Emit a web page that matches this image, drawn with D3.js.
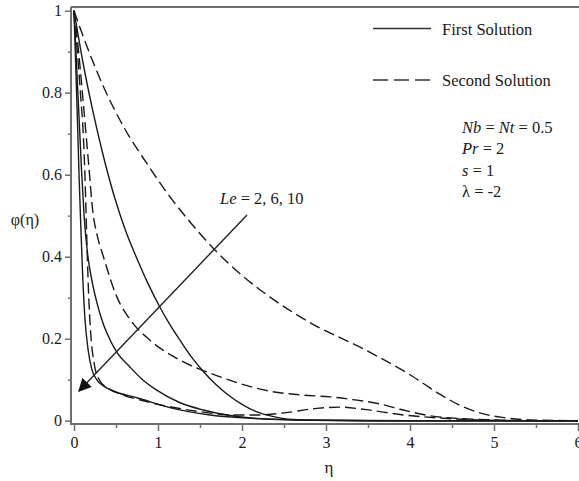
<!DOCTYPE html>
<html>
<head>
<meta charset="utf-8">
<script src="https://cdn.jsdelivr.net/npm/d3@7/dist/d3.min.js"></script>
<style>
  html, body { margin: 0; padding: 0; background: #fff; }
  svg { display: block; }
  svg text { font-family: "Liberation Serif", "Times New Roman", serif !important; fill: #1a1a1a; }
</style>
</head>
<body>
<svg id="chart" width="579" height="481"></svg>
<script>
// Concentration profiles phi(eta) for Le = 2, 6, 10 (first and second solutions)
const etaFirstLe2 = [0, 0.11, 0.23, 0.35, 0.49, 0.62, 0.75, 0.88, 1.02, 1.14, 1.26, 1.4, 1.54, 1.68, 1.82, 2.0, 2.17, 2.35, 2.6, 3.0, 4.0, 6.0];
const phiFirstLe2 = [1, 0.87, 0.75, 0.645, 0.54, 0.46, 0.395, 0.335, 0.278, 0.235, 0.197, 0.155, 0.12, 0.09, 0.065, 0.04, 0.022, 0.011, 0.003, 0.001, 0, 0];

const etaFirstLe6 = [0, 0.03, 0.06, 0.09, 0.12, 0.16, 0.21, 0.27, 0.35, 0.43, 0.51, 0.67, 0.8, 0.98, 1.25, 1.54, 2.13, 2.6, 3.5, 6.0];
const phiFirstLe6 = [1, 0.87, 0.74, 0.61, 0.5, 0.41, 0.345, 0.29, 0.235, 0.197, 0.167, 0.13, 0.103, 0.075, 0.045, 0.026, 0.006, 0.002, 0, 0];

const etaFirstLe10 = [0, 0.02, 0.04, 0.06, 0.08, 0.1, 0.13, 0.17, 0.21, 0.27, 0.35, 0.5, 0.75, 1.14, 1.62, 2.2, 2.8, 3.5, 6.0];
const phiFirstLe10 = [1, 0.87, 0.74, 0.6, 0.48, 0.37, 0.25, 0.17, 0.127, 0.1, 0.085, 0.07, 0.056, 0.032, 0.014, 0.005, 0.001, 0, 0];

const etaSecondLe2 = [0, 0.11, 0.35, 0.59, 0.865, 1.143, 1.36, 1.68, 2.02, 2.33, 2.6, 2.89, 3.09, 3.4, 3.65, 3.92, 4.15, 4.36, 4.6, 4.83, 5.1, 5.43, 6.0];
const phiSecondLe2 = [1, 0.937, 0.815, 0.717, 0.628, 0.546, 0.49, 0.416, 0.351, 0.302, 0.265, 0.23, 0.21, 0.18, 0.153, 0.122, 0.092, 0.064, 0.037, 0.019, 0.008, 0.002, 0];

const etaSecondLe6 = [0, 0.05, 0.1, 0.17, 0.23, 0.27, 0.35, 0.51, 0.67, 0.9, 1.26, 1.74, 2.1, 2.33, 2.69, 3.05, 3.3, 3.64, 3.88, 4.24, 4.6, 5.0, 5.5, 6.0];
const phiSecondLe6 = [1, 0.91, 0.8, 0.636, 0.5, 0.457, 0.4, 0.302, 0.246, 0.197, 0.148, 0.107, 0.083, 0.072, 0.063, 0.058, 0.052, 0.041, 0.028, 0.012, 0.005, 0.002, 0, 0];

const etaSecondLe10 = [0, 0.04, 0.08, 0.11, 0.13, 0.15, 0.17, 0.2, 0.24, 0.3, 0.4, 0.55, 0.8, 1.14, 1.5, 1.9, 2.2, 2.5, 2.89, 3.17, 3.48, 3.88, 4.32, 4.8, 5.5, 6.0];
const phiSecondLe10 = [1, 0.9, 0.79, 0.7, 0.6, 0.46, 0.33, 0.21, 0.14, 0.1, 0.08, 0.065, 0.05, 0.034, 0.022, 0.014, 0.014, 0.019, 0.03, 0.033, 0.027, 0.015, 0.007, 0.002, 0, 0];

const xTicks = [0, 1, 2, 3, 4, 5, 6];
const yTicks = [0, 0.2, 0.4, 0.6, 0.8, 1];
const legendLabels = ["First Solution", "Second Solution"];

const svg = d3.select("#chart");
const x = d3.scaleLinear().domain([0, 6]).range([74, 578]);
const y = d3.scaleLinear().domain([0, 1]).range([420.7, 10.7]);

const axisColor = "#6e6e6e";
const axisLeftX = 71, axisBottomY = 424, frameTopY = 7;
const serif = "'Liberation Serif', 'Times New Roman', serif";

// frame: left axis, bottom axis, top border
svg.append("line").attr("x1", axisLeftX).attr("x2", axisLeftX).attr("y1", frameTopY).attr("y2", axisBottomY + 1)
  .attr("stroke", axisColor).attr("stroke-width", 2);
svg.append("line").attr("x1", axisLeftX).attr("x2", 579).attr("y1", axisBottomY).attr("y2", axisBottomY)
  .attr("stroke", axisColor).attr("stroke-width", 2);
svg.append("line").attr("x1", axisLeftX).attr("x2", 579).attr("y1", frameTopY).attr("y2", frameTopY)
  .attr("stroke", axisColor).attr("stroke-width", 2);

// y axis ticks (major + minor), labels
const yAxis = d3.axisLeft(y).tickValues(yTicks).tickSize(6).tickPadding(3)
  .tickFormat(d => d === 0 || d === 1 ? d3.format("d")(d) : d3.format(".1f")(d));
const gy = svg.append("g").attr("transform", `translate(${axisLeftX},0)`).call(yAxis);
gy.attr("font-family", null).attr("font-size", null);
gy.select(".domain").remove();
gy.selectAll(".tick line").attr("stroke", axisColor).attr("stroke-width", 1.5);
gy.selectAll(".tick text").style("font-family", serif).style("font-size", "16px").attr("fill", "#1a1a1a");
const gyMinor = svg.append("g").attr("transform", `translate(${axisLeftX},0)`)
  .call(d3.axisLeft(y).tickValues([0.1, 0.3, 0.5, 0.7, 0.9]).tickSize(3).tickFormat(""));
gyMinor.select(".domain").remove();
gyMinor.selectAll(".tick line").attr("stroke", axisColor).attr("stroke-width", 1.5);

// x axis ticks (major + minor), labels
const xAxis = d3.axisBottom(x).tickValues(xTicks).tickSize(7).tickPadding(6).tickFormat(d3.format("d"));
const gx = svg.append("g").attr("transform", `translate(0,${axisBottomY})`).call(xAxis);
gx.attr("font-family", null).attr("font-size", null);
gx.select(".domain").remove();
gx.selectAll(".tick line").attr("stroke", axisColor).attr("stroke-width", 1.5);
gx.selectAll(".tick text").style("font-family", serif).style("font-size", "16px").attr("fill", "#1a1a1a");
const gxMinor = svg.append("g").attr("transform", `translate(0,${axisBottomY})`)
  .call(d3.axisBottom(x).tickValues([0.5, 1.5, 2.5, 3.5, 4.5, 5.5]).tickSize(4).tickFormat(""));
gxMinor.select(".domain").remove();
gxMinor.selectAll(".tick line").attr("stroke", axisColor).attr("stroke-width", 1.5);

// axis titles
svg.append("text").attr("x", 329).attr("y", 473).attr("text-anchor", "middle").style("font-size", "17px").text("η");
svg.append("text").attr("x", 25).attr("y", 225).attr("text-anchor", "middle").style("font-size", "16px").text("φ(η)");

// profiles
const line = d3.line().x(d => x(d[0])).y(d => y(d[1])).curve(d3.curveMonotoneX);
const series = [
  { eta: etaFirstLe2, phi: phiFirstLe2, dashed: false },
  { eta: etaFirstLe6, phi: phiFirstLe6, dashed: false },
  { eta: etaFirstLe10, phi: phiFirstLe10, dashed: false },
  { eta: etaSecondLe2, phi: phiSecondLe2, dashed: true },
  { eta: etaSecondLe6, phi: phiSecondLe6, dashed: true },
  { eta: etaSecondLe10, phi: phiSecondLe10, dashed: true }
];
const defs = svg.append("defs");
defs.append("clipPath").attr("id", "plotClip")
  .append("rect").attr("x", axisLeftX + 1).attr("y", frameTopY).attr("width", 579 - axisLeftX).attr("height", axisBottomY - frameTopY);
const gLines = svg.append("g").attr("clip-path", "url(#plotClip)");
series.forEach(s => {
  gLines.append("path")
    .datum(d3.zip(s.eta, s.phi))
    .attr("d", line)
    .attr("fill", "none")
    .attr("stroke", "#1a1a1a")
    .attr("stroke-width", 1.4)
    .attr("stroke-dasharray", s.dashed ? "11,5" : null);
});

// legend
const legend = svg.append("g");
legendLabels.forEach((label, i) => {
  const ly = i === 0 ? 28.5 : 80;
  legend.append("line").attr("x1", 373).attr("x2", 431).attr("y1", ly).attr("y2", ly)
    .attr("stroke", "#333").attr("stroke-width", 1.4)
    .attr("stroke-dasharray", i === 0 ? null : "15,6");
  legend.append("text").attr("x", 442).attr("y", ly + 6).style("font-size", "16.5px").text(label);
});

// parameter block
const params = [
  [["Nb", true], [" = ", false], ["Nt", true], [" = 0.5", false]],
  [["Pr", true], [" = 2", false]],
  [["s", true], [" = 1", false]],
  [["λ", false], [" = -2", false]]
];
params.forEach((row, i) => {
  const t = svg.append("text").attr("x", 462).attr("y", 133 + i * 21.3).style("font-size", "16.5px");
  row.forEach(([str, it]) => t.append("tspan").attr("font-style", it ? "italic" : "normal").text(str));
});

// Lewis number annotation with arrow
const ann = svg.append("text").attr("x", 220).attr("y", 204).style("font-size", "16.5px");
ann.append("tspan").attr("font-style", "italic").text("Le");
ann.append("tspan").text(" = 2, 6, 10");

defs.append("marker").attr("id", "arrowHead")
  .attr("viewBox", "0 0 10 10").attr("refX", 9).attr("refY", 5)
  .attr("markerWidth", 17).attr("markerHeight", 13).attr("markerUnits", "userSpaceOnUse")
  .attr("orient", "auto")
  .append("path").attr("d", "M0,0 L10,5 L0,10 Z").attr("fill", "#111");
svg.append("line").attr("x1", 247).attr("y1", 215).attr("x2", 79).attr("y2", 391)
  .attr("stroke", "#222").attr("stroke-width", 1.4).attr("marker-end", "url(#arrowHead)");
</script>
</body>
</html>
